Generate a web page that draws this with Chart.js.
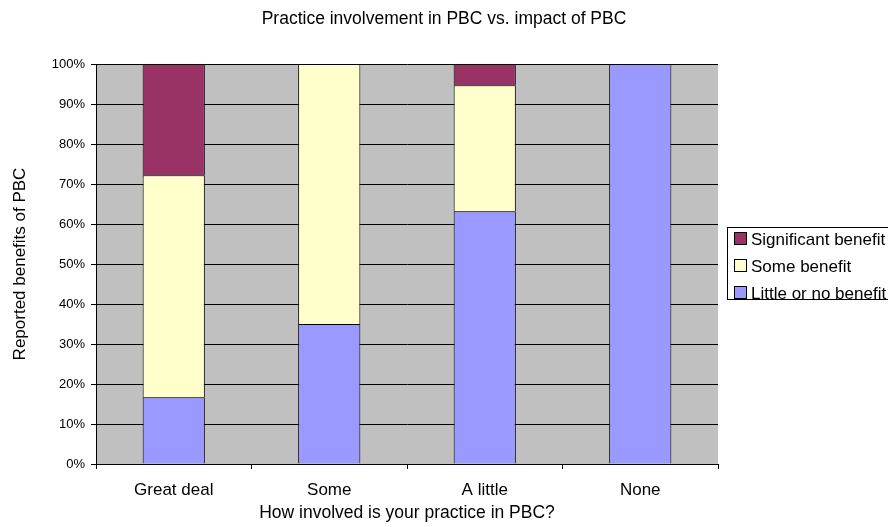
<!DOCTYPE html>
<html>
<head>
<meta charset="utf-8">
<script src="https://cdn.jsdelivr.net/npm/chart.js@4/dist/chart.umd.min.js"></script>
<style>
  html, body { margin: 0; padding: 0; background: #fff; }
  #wrap { width: 888px; height: 527px; }
</style>
</head>
<body>
<div id="wrap"><canvas id="chart" width="888" height="527"></canvas></div>
<script>
    // categories and series (percent of responses)
    var categories = ['Great deal', 'Some', 'A little', 'None'];
    var littleBenefit = [16.7, 35.0, 63.2, 100.0];
    var someBenefit = [55.5, 65.0, 31.5, 0];
    var significantBenefit = [27.8, 0, 5.3, 0];
    var yTicks = [0, 10, 20, 30, 40, 50, 60, 70, 80, 90, 100];

    var FONT = '"Liberation Sans", Arial, sans-serif';

    // grey plot area
    var plotBackground = {
        id: 'plotBackground',
        beforeDraw: function (chart) {
            var a = chart.chartArea, ctx = chart.ctx;
            ctx.save();
            ctx.fillStyle = '#C0C0C0';
            ctx.fillRect(a.left, a.top, a.right - a.left, a.bottom - a.top);
            ctx.restore();
        }
    };

    // title and boxed legend, drawn like the original sheet
    var sheetDecor = {
        id: 'sheetDecor',
        afterDraw: function (chart) {
            var ctx = chart.ctx;
            ctx.save();
            ctx.fillStyle = '#000';
            ctx.font = '17.5px ' + FONT;
            ctx.textAlign = 'center';
            ctx.textBaseline = 'middle';
            ctx.fillText('Practice involvement in PBC vs. impact of PBC', 444, 19);

            var sets = chart.data.datasets.slice().reverse();
            var x = 727, y = 227, rowH = 27;
            ctx.fillStyle = '#fff';
            ctx.fillRect(x, y, 170, 72);
            ctx.strokeStyle = '#000';
            ctx.lineWidth = 1;
            ctx.strokeRect(x + 0.5, y + 0.5, 170, 72);
            ctx.font = '17px ' + FONT;
            ctx.textAlign = 'left';
            sets.forEach(function (ds, i) {
                var cy = y + 12 + i * rowH;
                ctx.fillStyle = ds.backgroundColor;
                ctx.fillRect(x + 7.5, cy - 6.5, 12, 12);
                ctx.strokeRect(x + 7.5, cy - 6.5, 12, 12);
                ctx.fillStyle = '#000';
                ctx.fillText(ds.label, x + 24, cy + 1);
            });
            ctx.restore();
        }
    };

    var ctx = document.getElementById('chart').getContext('2d');
    new Chart(ctx, {
        type: 'bar',
        data: {
            labels: categories,
            datasets: [{
                label: 'Little or no benefit',
                data: littleBenefit,
                backgroundColor: '#9999FF',
                borderColor: '#000',
                borderWidth: 1
            }, {
                label: 'Some benefit',
                data: someBenefit,
                backgroundColor: '#FFFFCC',
                borderColor: '#000',
                borderWidth: 1
            }, {
                label: 'Significant benefit',
                data: significantBenefit,
                backgroundColor: '#993366',
                borderColor: '#000',
                borderWidth: 1
            }]
        },
        options: {
            responsive: false,
            animation: false,
            layout: { padding: { top: 64, right: 170, left: 0, bottom: 0 } },
            datasets: { bar: { categoryPercentage: 1, barPercentage: 0.4 } },
            plugins: { legend: { display: false }, title: { display: false }, tooltip: { enabled: false } },
            scales: {
                x: {
                    stacked: true,
                    afterFit: function (s) { s.height = 63; },
                    grid: { offset: true, drawOnChartArea: false, color: '#000', tickLength: 5 },
                    border: { color: '#000' },
                    ticks: { color: '#000', font: { family: FONT, size: 17 }, padding: 11, maxRotation: 0 },
                    title: { display: true, text: 'How involved is your practice in PBC?', color: '#000',
                             font: { family: FONT, size: 17.5 }, padding: { top: 0, bottom: 3 } }
                },
                y: {
                    stacked: true,
                    min: 0,
                    max: 100,
                    afterFit: function (s) { s.width = 96; },
                    afterBuildTicks: function (s) { s.ticks = yTicks.map(function (v) { return { value: v }; }); },
                    grid: { color: '#000', tickLength: 5 },
                    border: { color: '#000' },
                    ticks: { color: '#000', font: { family: FONT, size: 13 }, padding: 6,
                             callback: function (v) { return v + '%'; } },
                    title: { display: true, text: 'Reported benefits of PBC', color: '#000',
                             font: { family: FONT, size: 17 }, padding: { top: 10, bottom: 0 } }
                }
            }
        },
        plugins: [plotBackground, sheetDecor]
    });
</script>
</body>
</html>
